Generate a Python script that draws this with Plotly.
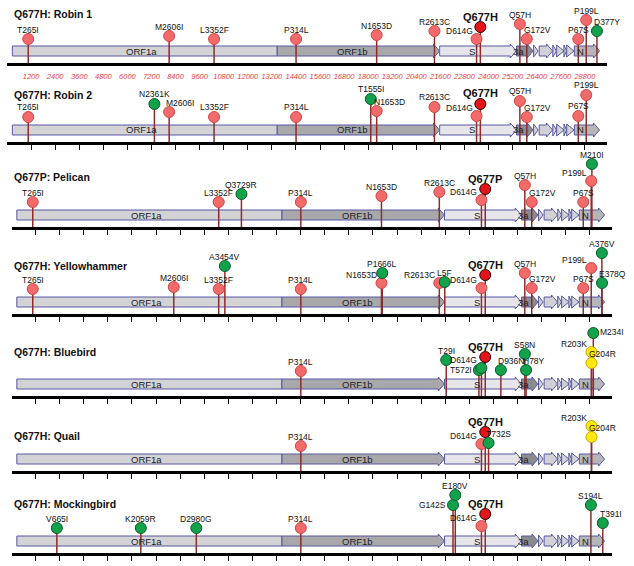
import plotly.graph_objects as go

W, H = 634, 566
GENOME_LEN = 29903

# ---------------- genome annotation (SARS-CoV-2 coordinates) ----------------
gene_names = ["ORF1a", "ORF1b", "S", "ORF3a", "E", "M", "ORF6", "ORF7a", "ORF7b", "ORF8", "N"]
gene_start = [266, 13468, 21563, 25393, 26245, 26523, 27202, 27394, 27756, 27894, 28274]
gene_end = [13468, 21555, 25384, 26220, 26472, 27191, 27387, 27759, 27887, 28259, 29533]
gene_label = ["ORF1a", "ORF1b", "S", "3a", "", "", "", "", "", "", "N"]
gene_fill = ["#d3d3d6", "#a8a8ab", "#e6e6ea", "#8a8a8f", "#d2d2d6", "#d2d2d6",
             "#d2d2d6", "#d2d2d6", "#d2d2d6", "#d2d2d6", "#b6b6b9"]
gene_arrow = [False, True, True, True, True, True, True, True, True, True, True]

tick_vals = [1200 * k for k in range(1, 25)]
tick_text = [str(v) for v in tick_vals]

# ---------------- mutations per sample ----------------
# kind: r = common (light red), q = focal S mutation (dark red), g = unique (green), y = yellow
robin1_names = ["T265I", "M2606I", "L3352F", "P314L", "N1653D", "R2613C", "D614G", "Q677H",
                "Q57H", "G172V", "P67S", "P199L", "D377Y"]
robin1_pos = [1058, 8081, 10319, 14407, 18424, 21304, 23402, 23591, 25561, 25906, 28472, 28868, 29402]
robin1_kind = ["r", "r", "r", "r", "r", "r", "r", "q", "r", "r", "r", "r", "g"]
robin1_height = [24, 27, 24, 24, 28, 32, 24, 36, 39, 24, 24, 43, 32]
robin1_label = ["c", "c", "c", "c", "c", "c", "l", "c", "c", "r", "c", "c", "r"]

robin2_names = ["T265I", "N2361K", "M2606I", "L3352F", "P314L", "T1555I", "N1653D", "R2613C",
                "D614G", "Q677H", "Q57H", "G172V", "P67S", "P199L"]
robin2_pos = [1058, 7346, 8081, 10319, 14407, 18130, 18424, 21304, 23402, 23591, 25561, 25906, 28472, 28868]
robin2_kind = ["r", "g", "r", "r", "r", "g", "r", "r", "r", "q", "r", "r", "r", "r"]
robin2_height = [25, 38, 30, 25, 25, 43, 31, 35, 26, 38, 41, 25, 26, 47]
robin2_label = ["c", "c", "r", "c", "c", "c", "r", "c", "l", "c", "c", "r", "c", "c"]

pelican_names = ["T265I", "L3352F", "Q3729R", "P314L", "N1653D", "R2613C", "D614G", "Q677P",
                 "Q57H", "G172V", "P67S", "P199L", "M210I"]
pelican_pos = [1058, 10319, 11450, 14407, 18424, 21304, 23402, 23591, 25561, 25906, 28472, 28868, 28901]
pelican_kind = ["r", "r", "g", "r", "r", "r", "r", "q", "r", "r", "r", "r", "g"]
pelican_height = [25, 25, 33, 25, 31, 35, 27, 38, 42, 25, 25, 46, 63]
pelican_label = ["c", "c", "c", "c", "c", "c", "l", "c", "c", "r", "c", "l", "c"]

yellow_names = ["T265I", "M2606I", "L3352F", "A3454V", "P314L", "N1653D", "P1666L", "R2613C",
                "L5F", "D614G", "Q677H", "Q57H", "G172V", "P67S", "P199L", "A376V", "E378Q"]
yellow_pos = [1058, 8081, 10319, 10625, 14407, 18424, 18463, 21304, 21575, 23402, 23591,
              25561, 25906, 28472, 28868, 29399, 29405]
yellow_kind = ["r", "r", "r", "g", "r", "r", "g", "r", "g", "r", "q", "r", "r", "r", "r", "g", "g"]
yellow_height = [25, 27, 25, 48, 25, 31, 41, 31, 32, 26, 39, 41, 26, 26, 46, 61, 31]
yellow_label = ["c", "c", "c", "c", "c", "l", "c", "l", "c", "l", "c", "c", "r", "c", "l", "c", "r"]

blue_names = ["P314L", "T29I", "T572I", "D614G", "Q677H", "D936N", "S58N", "H78Y",
              "R203K", "G204R", "M234I"]
blue_pos = [14407, 21647, 23276, 23402, 23591, 24368, 25564, 25624, 28880, 28883, 28973]
blue_kind = ["r", "g", "g", "g", "q", "g", "g", "g", "y", "y", "g"]
blue_height = [25, 36, 26, 28, 39, 26, 42, 26, 44, 33, 63]
blue_label = ["c", "c", "L", "l", "c", "r", "c", "r", "l", "r", "R"]

quail_names = ["P314L", "D614G", "Q677H", "T732S", "R203K", "G204R"]
quail_pos = [14407, 23402, 23591, 23756, 28880, 28883]
quail_kind = ["r", "r", "q", "g", "y", "y"]
quail_height = [25, 27, 39, 28, 45, 34]
quail_label = ["c", "l", "c", "r", "l", "r"]

mock_names = ["V665I", "K2059R", "D2980G", "P314L", "G142S", "E180V", "D614G", "Q677H", "S194L", "T391I"]
mock_pos = [2258, 6440, 9203, 14407, 21986, 22100, 23402, 23591, 28853, 29444]
mock_kind = ["g", "g", "g", "r", "g", "g", "r", "q", "g", "g"]
mock_height = [25, 25, 25, 25, 48, 58, 27, 39, 48, 30]
mock_label = ["c", "c", "c", "c", "L", "c", "l", "c", "c", "r"]

panel_titles = ["Q677H: Robin 1", "Q677H: Robin 2", "Q677P: Pelican", "Q677H: Yellowhammer",
                "Q677H: Bluebird", "Q677H: Quail", "Q677H: Mockingbird"]
panel_data = [
    (robin1_names, robin1_pos, robin1_kind, robin1_height, robin1_label),
    (robin2_names, robin2_pos, robin2_kind, robin2_height, robin2_label),
    (pelican_names, pelican_pos, pelican_kind, pelican_height, pelican_label),
    (yellow_names, yellow_pos, yellow_kind, yellow_height, yellow_label),
    (blue_names, blue_pos, blue_kind, blue_height, blue_label),
    (quail_names, quail_pos, quail_kind, quail_height, quail_label),
    (mock_names, mock_pos, mock_kind, mock_height, mock_label),
]

# ---------------- layout geometry (pixels) ----------------
baselines = [63, 142, 227, 314, 396, 471, 553]
title_y = [14, 95, 177, 266, 352, 436, 504]
x_domains = [(7, 607), (7, 607), (11.5, 612), (11.5, 612), (11.5, 612), (11.5, 612), (11.5, 612)]

FONT = "Arial, Liberation Sans, Helvetica, sans-serif"
fill_col = {"r": "#f26a6a", "q": "#e3151b", "g": "#12a24b", "y": "#ffe710"}
line_col = {"r": "#d04848", "q": "#2a0505", "g": "#0b5e2c", "y": "#c9a800"}
STEM = "#8e2b2b"
BORDER = "#5858a0"
BOX_LO, BOX_HI = 7, 17
HEAD = 300  # arrow head length in nt

fig = go.Figure()
shapes = []
annotations = []
layout_axes = {}

for i in range(7):
    sfx = "" if i == 0 else str(i + 1)
    xr, yr = "x" + sfx, "y" + sfx
    b = baselines[i]
    top = max(b - 75, 0)
    hgt = b - top
    x0, x1 = x_domains[i]
    xa = dict(domain=[x0 / W, x1 / W], range=[0, GENOME_LEN], anchor=yr, automargin=False,
              showline=True, linecolor="black", linewidth=2.5, mirror=False,
              showgrid=False, zeroline=False, fixedrange=True,
              tickvals=tick_vals, ticktext=tick_text)
    if i == 0:
        xa.update(ticks="", showticklabels=True, ticklabelstandoff=4, tickangle=0,
                  tickfont=dict(family=FONT, size=7.5, color="#f03a3a", style="italic"))
    else:
        xa.update(ticks="outside", ticklen=5, tickwidth=1, tickcolor="black", showticklabels=False)
    layout_axes["xaxis" + sfx] = xa
    layout_axes["yaxis" + sfx] = dict(domain=[1 - b / H, 1 - top / H], range=[0, hgt], automargin=False,
                                      visible=False, anchor=xr, fixedrange=True)

    # gene boxes / arrows
    for g in range(len(gene_names)):
        s, e = gene_start[g], gene_end[g]
        if not gene_arrow[g]:
            path = f"M{s},{BOX_LO} L{e},{BOX_LO} L{e},{BOX_HI} L{s},{BOX_HI} Z"
        elif e - s <= HEAD * 1.3:
            path = f"M{s},{BOX_LO - 1} L{e},{(BOX_LO + BOX_HI) / 2} L{s},{BOX_HI + 1} Z"
        else:
            m = e - HEAD
            path = (f"M{s},{BOX_LO} L{m},{BOX_LO} L{m},{BOX_LO - 2} L{e},{(BOX_LO + BOX_HI) / 2} "
                    f"L{m},{BOX_HI + 2} L{m},{BOX_HI} L{s},{BOX_HI} Z")
        shapes.append(dict(type="path", path=path, xref=xr, yref=yr, fillcolor=gene_fill[g],
                           line=dict(color=BORDER, width=1), layer="below"))
        if gene_label[g]:
            body_end = e - HEAD if gene_arrow[g] else e
            annotations.append(dict(x=(s + body_end) / 2, y=(BOX_LO + BOX_HI) / 2, xref=xr, yref=yr,
                                    text=gene_label[g], showarrow=False, xshift=-3,
                                    font=dict(family=FONT, size=9.5, color="#222")))

    names, pos, kind, height, lab = panel_data[i]
    # stems
    sx, sy = [], []
    for p, h in zip(pos, height):
        sx += [p, p, None]
        sy += [0, h, None]
    fig.add_trace(go.Scatter(x=sx, y=sy, xaxis=xr, yaxis=yr, mode="lines",
                             line=dict(color=STEM, width=1.5), hoverinfo="skip", showlegend=False))
    # heads
    fig.add_trace(go.Scatter(x=pos, y=height, xaxis=xr, yaxis=yr, mode="markers",
                             marker=dict(size=11, color=[fill_col[k] for k in kind],
                                         line=dict(color=[line_col[k] for k in kind], width=1)),
                             text=names, hoverinfo="text", showlegend=False, cliponaxis=False))
    # labels
    for n, p, k, h, m in zip(names, pos, kind, height, lab):
        bold = (k == "q")
        txt = f"<b>{n}</b>" if bold else n
        fnt = dict(family=FONT, size=11 if bold else 8.5, color="#111")
        a = dict(x=p, y=h, xref=xr, yref=yr, text=txt, showarrow=False, font=fnt, borderpad=0)
        if m == "c":
            a.update(xanchor="center", yanchor="bottom", yshift=3.5)
        elif m == "l":
            a.update(xanchor="right", yanchor="middle", xshift=-3, yshift=8)
        elif m == "r":
            a.update(xanchor="left", yanchor="middle", xshift=-4, yshift=9)
        elif m == "L":
            a.update(xanchor="right", yanchor="middle", xshift=-6, yshift=0)
        elif m == "R":
            a.update(xanchor="left", yanchor="middle", xshift=6, yshift=1)
        annotations.append(a)

    # panel title
    annotations.append(dict(x=12 / W, y=1 - title_y[i] / H, xref="paper", yref="paper",
                            xanchor="left", yanchor="middle", showarrow=False,
                            text=f"<b>{panel_titles[i]}</b>",
                            font=dict(family=FONT, size=10.5, color="#111")))

fig.update_layout(width=W, height=H, margin=dict(l=0, r=0, t=0, b=0, autoexpand=False),
                  paper_bgcolor="white", plot_bgcolor="rgba(0,0,0,0)",
                  shapes=shapes, annotations=annotations, showlegend=False,
                  font=dict(family=FONT), **layout_axes)

fig.write_html("out.html", config={"displayModeBar": False},
               post_script="document.body.style.margin='0';document.body.style.padding='0';")
